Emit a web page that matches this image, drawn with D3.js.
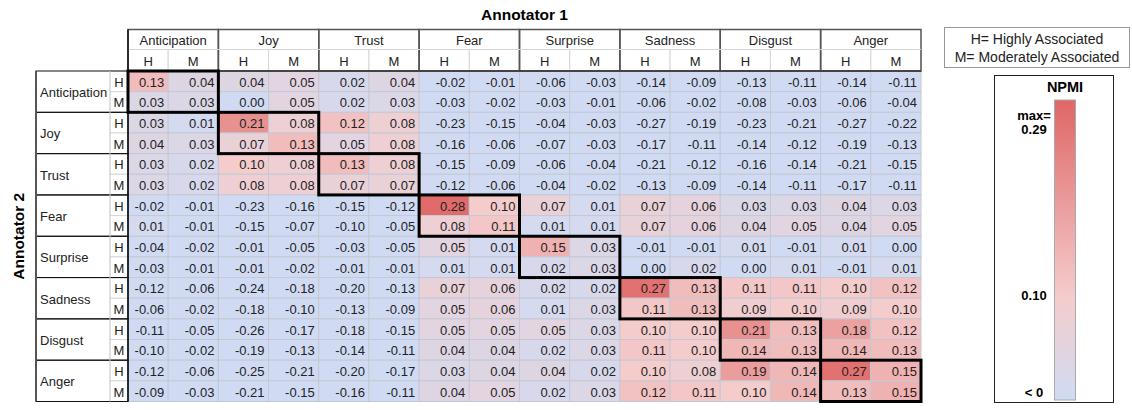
<!DOCTYPE html>
<html>
<head>
<meta charset="utf-8">
<script src="https://cdn.jsdelivr.net/npm/d3@7"></script>
<style>
  body { margin: 0; background: #fff; }
  svg { font-family: "Liberation Sans", Arial, sans-serif; }
</style>
</head>
<body>
<svg id="chart" width="1132" height="410"></svg>
<script>
const groups = ['Anticipation', 'Joy', 'Trust', 'Fear', 'Surprise', 'Sadness', 'Disgust', 'Anger']
const levels = ['H', 'M']

// rows = Annotator 2 (group x level), cols = Annotator 1 (group x level)
const npmi = [
  [0.13, 0.04, 0.04, 0.05, 0.02, 0.04, -0.02, -0.01, -0.06, -0.03, -0.14, -0.09, -0.13, -0.11, -0.14, -0.11],
  [0.03, 0.03, 0.00, 0.05, 0.02, 0.03, -0.03, -0.02, -0.03, -0.01, -0.06, -0.02, -0.08, -0.03, -0.06, -0.04],
  [0.03, 0.01, 0.21, 0.08, 0.12, 0.08, -0.23, -0.15, -0.04, -0.03, -0.27, -0.19, -0.23, -0.21, -0.27, -0.22],
  [0.04, 0.03, 0.07, 0.13, 0.05, 0.08, -0.16, -0.06, -0.07, -0.03, -0.17, -0.11, -0.14, -0.12, -0.19, -0.13],
  [0.03, 0.02, 0.10, 0.08, 0.13, 0.08, -0.15, -0.09, -0.06, -0.04, -0.21, -0.12, -0.16, -0.14, -0.21, -0.15],
  [0.03, 0.02, 0.08, 0.08, 0.07, 0.07, -0.12, -0.06, -0.04, -0.02, -0.13, -0.09, -0.14, -0.11, -0.17, -0.11],
  [-0.02, -0.01, -0.23, -0.16, -0.15, -0.12, 0.28, 0.10, 0.07, 0.01, 0.07, 0.06, 0.03, 0.03, 0.04, 0.03],
  [0.01, -0.01, -0.15, -0.07, -0.10, -0.05, 0.08, 0.11, 0.01, 0.01, 0.07, 0.06, 0.04, 0.05, 0.04, 0.05],
  [-0.04, -0.02, -0.01, -0.05, -0.03, -0.05, 0.05, 0.01, 0.15, 0.03, -0.01, -0.01, 0.01, -0.01, 0.01, 0.00],
  [-0.03, -0.01, -0.01, -0.02, -0.01, -0.01, 0.01, 0.01, 0.02, 0.03, 0.00, 0.02, 0.00, 0.01, -0.01, 0.01],
  [-0.12, -0.06, -0.24, -0.18, -0.20, -0.13, 0.07, 0.06, 0.02, 0.02, 0.27, 0.13, 0.11, 0.11, 0.10, 0.12],
  [-0.06, -0.02, -0.18, -0.10, -0.13, -0.09, 0.05, 0.06, 0.01, 0.03, 0.11, 0.13, 0.09, 0.10, 0.09, 0.10],
  [-0.11, -0.05, -0.26, -0.17, -0.18, -0.15, 0.05, 0.05, 0.05, 0.03, 0.10, 0.10, 0.21, 0.13, 0.18, 0.12],
  [-0.10, -0.02, -0.19, -0.13, -0.14, -0.11, 0.04, 0.04, 0.02, 0.03, 0.11, 0.10, 0.14, 0.13, 0.14, 0.13],
  [-0.12, -0.06, -0.25, -0.21, -0.20, -0.17, 0.03, 0.04, 0.04, 0.02, 0.10, 0.08, 0.19, 0.14, 0.27, 0.15],
  [-0.09, -0.03, -0.21, -0.15, -0.16, -0.11, 0.04, 0.05, 0.02, 0.03, 0.12, 0.11, 0.10, 0.14, 0.13, 0.15],
]

const colorStops = [0, 0.10, 0.29]
const colorRange = ['#d0dbf3', '#f4cccc', '#e06666']
const legendLabels = [{ v: 0.29, lines: ['max=', '0.29'] }, { v: 0.10, lines: ['0.10'] }, { v: 0, lines: ['< 0'] }]
const keyLines = ['H= Highly Associated', 'M= Moderately Associated']

const svg = d3.select('#chart')
const keys = groups.flatMap((g) => levels.map((l) => `${g}-${l}`))

// first column of the sheet is narrower, so the band starts left of the data edge and gets clipped
const dataLeft = 128
const x = d3.scaleBand().domain(keys).range([118, 921])
const y = d3.scaleBand().domain(keys).range([71, 401.5])
const bw = x.bandwidth()
const bh = y.bandwidth()
const color = d3.scaleLinear().domain(colorStops).range(colorRange).clamp(true)
const fs = 13

const cx = (k) => Math.max(x(k), dataLeft)
const cw = (k) => x(k) + bw - cx(k)

const cells = []
npmi.forEach((row, r) => {
  row.forEach((v, c) => cells.push({ r: keys[r], c: keys[c], v }))
})

// cells
const body = svg.append('g')
body.selectAll('rect')
  .data(cells)
  .join('rect')
  .attr('x', (d) => cx(d.c))
  .attr('y', (d) => y(d.r))
  .attr('width', (d) => cw(d.c))
  .attr('height', bh)
  .attr('fill', (d) => color(d.v))
  .attr('stroke', '#c4c8d4')
  .attr('stroke-width', 1)

body.selectAll('text')
  .data(cells)
  .join('text')
  .attr('x', (d) => x(d.c) + bw - 4)
  .attr('y', (d) => y(d.r) + bh / 2 + 1)
  .attr('text-anchor', 'end')
  .attr('dominant-baseline', 'central')
  .attr('font-size', fs)
  .attr('fill', '#222')
  .text((d) => d.v.toFixed(2))

// column header
const head = svg.append('g')
const hTop = 29.5
const hMid = 49.5
const hBot = y.range()[0]

head.selectAll('.sub')
  .data(keys)
  .join('rect')
  .attr('class', 'sub')
  .attr('x', (k) => cx(k))
  .attr('y', hMid)
  .attr('width', (k) => cw(k))
  .attr('height', hBot - hMid)
  .attr('fill', '#fff')
  .attr('stroke', '#d6d6d6')

head.selectAll('.subText')
  .data(keys)
  .join('text')
  .attr('class', 'subText')
  .attr('x', (k) => cx(k) + cw(k) / 2)
  .attr('y', (hMid + hBot) / 2 + 1)
  .attr('text-anchor', 'middle')
  .attr('dominant-baseline', 'central')
  .attr('font-size', fs)
  .attr('fill', '#222')
  .text((k) => k.split('-')[1])

head.selectAll('.grp')
  .data(groups)
  .join('rect')
  .attr('class', 'grp')
  .attr('x', (g) => cx(`${g}-H`))
  .attr('y', hTop)
  .attr('width', (g) => x(`${g}-M`) + bw - cx(`${g}-H`))
  .attr('height', hBot - hTop)
  .attr('fill', 'none')
  .attr('stroke', '#555')
  .attr('stroke-width', 1.5)

head.append('line')
  .attr('x1', dataLeft).attr('x2', x.range()[1])
  .attr('y1', hMid).attr('y2', hMid)
  .attr('stroke', '#d6d6d6')

head.selectAll('.grpText')
  .data(groups)
  .join('text')
  .attr('class', 'grpText')
  .attr('x', (g) => (cx(`${g}-H`) + x(`${g}-M`) + bw) / 2)
  .attr('y', (hTop + hMid) / 2 + 1)
  .attr('text-anchor', 'middle')
  .attr('dominant-baseline', 'central')
  .attr('font-size', fs)
  .attr('fill', '#222')
  .text((g) => g)

head.append('line')
  .attr('x1', dataLeft).attr('x2', x.range()[1])
  .attr('y1', hBot).attr('y2', hBot)
  .attr('stroke', '#444')
  .attr('stroke-width', 2)

// row header
const rowHead = svg.append('g')
const labLeft = 36
const labMid = 110

rowHead.selectAll('.sub')
  .data(keys)
  .join('rect')
  .attr('class', 'sub')
  .attr('x', labMid)
  .attr('y', (k) => y(k))
  .attr('width', dataLeft - labMid)
  .attr('height', bh)
  .attr('fill', '#fff')
  .attr('stroke', '#d6d6d6')

rowHead.selectAll('.subText')
  .data(keys)
  .join('text')
  .attr('class', 'subText')
  .attr('x', (labMid + dataLeft) / 2)
  .attr('y', (k) => y(k) + bh / 2 + 1)
  .attr('text-anchor', 'middle')
  .attr('dominant-baseline', 'central')
  .attr('font-size', fs)
  .attr('fill', '#222')
  .text((k) => k.split('-')[1])

rowHead.selectAll('.grp')
  .data(groups)
  .join('rect')
  .attr('class', 'grp')
  .attr('x', labLeft)
  .attr('y', (g) => y(`${g}-H`))
  .attr('width', dataLeft - labLeft)
  .attr('height', bh * 2)
  .attr('fill', 'none')
  .attr('stroke', '#111')
  .attr('stroke-width', 1)

rowHead.append('line')
  .attr('x1', labMid).attr('x2', labMid)
  .attr('y1', y.range()[0]).attr('y2', y.range()[1])
  .attr('stroke', '#d6d6d6')

rowHead.selectAll('.grpText')
  .data(groups)
  .join('text')
  .attr('class', 'grpText')
  .attr('x', labLeft + 4)
  .attr('y', (g) => y(`${g}-H`) + bh + 1)
  .attr('dominant-baseline', 'central')
  .attr('font-size', fs)
  .attr('fill', '#222')
  .text((g) => g)

rowHead.append('line')
  .attr('x1', labLeft).attr('x2', labLeft)
  .attr('y1', y.range()[0]).attr('y2', y.range()[1])
  .attr('stroke', '#555')
  .attr('stroke-width', 2)

rowHead.append('line')
  .attr('x1', dataLeft).attr('x2', dataLeft)
  .attr('y1', hTop).attr('y2', y.range()[1])
  .attr('stroke', '#111')
  .attr('stroke-width', 1.5)

// diagonal blocks (same emotion for both annotators)
svg.append('g')
  .selectAll('rect')
  .data(groups)
  .join('rect')
  .attr('x', (g) => cx(`${g}-H`))
  .attr('y', (g) => y(`${g}-H`))
  .attr('width', (g) => x(`${g}-M`) + bw - cx(`${g}-H`))
  .attr('height', bh * 2)
  .attr('fill', 'none')
  .attr('stroke', '#000')
  .attr('stroke-width', 3)

// axis titles
svg.append('text')
  .attr('x', (dataLeft + x.range()[1]) / 2)
  .attr('y', 14)
  .attr('text-anchor', 'middle')
  .attr('dominant-baseline', 'central')
  .attr('font-size', 15.5)
  .attr('font-weight', 'bold')
  .text('Annotator 1')

svg.append('text')
  .attr('transform', `translate(18,${(y.range()[0] + y.range()[1]) / 2}) rotate(-90)`)
  .attr('text-anchor', 'middle')
  .attr('dominant-baseline', 'central')
  .attr('font-size', 15.5)
  .attr('font-weight', 'bold')
  .text('Annotator 2')

// H / M key
const key = svg.append('g')
key.append('rect')
  .attr('x', 944.5).attr('y', 27.5)
  .attr('width', 185).attr('height', 40)
  .attr('fill', '#fff')
  .attr('stroke', '#999')
key.selectAll('text')
  .data(keyLines)
  .join('text')
  .attr('x', 1037)
  .attr('y', (d, i) => 39 + i * 18)
  .attr('text-anchor', 'middle')
  .attr('dominant-baseline', 'central')
  .attr('font-size', 14)
  .attr('fill', '#222')
  .text((d) => d)

// colour legend
const leg = svg.append('g')
leg.append('rect')
  .attr('x', 994.5).attr('y', 75.5)
  .attr('width', 119).attr('height', 327)
  .attr('fill', '#fff')
  .attr('stroke', '#222')

leg.append('text')
  .attr('x', 1065).attr('y', 87)
  .attr('text-anchor', 'middle')
  .attr('dominant-baseline', 'central')
  .attr('font-size', 14.5)
  .attr('font-weight', 'bold')
  .text('NPMI')

const ly = d3.scaleLinear().domain([0, 0.29]).range([400, 100])
const grad = svg.append('defs').append('linearGradient')
  .attr('id', 'npmiGrad')
  .attr('x1', 0).attr('x2', 0).attr('y1', 1).attr('y2', 0)
grad.selectAll('stop')
  .data(colorStops)
  .join('stop')
  .attr('offset', (d) => d / colorStops[colorStops.length - 1])
  .attr('stop-color', (d) => color(d))

leg.append('rect')
  .attr('x', 1054.5).attr('y', ly(0.29))
  .attr('width', 21).attr('height', ly(0) - ly(0.29))
  .attr('fill', 'url(#npmiGrad)')
  .attr('stroke', '#aaa')

const labelY = { 0.29: 115, 0.1: 295, 0: 392 }
leg.selectAll('.lab')
  .data(legendLabels)
  .join('text')
  .attr('class', 'lab')
  .attr('x', 1034)
  .attr('y', (d) => labelY[d.v] ?? ly(d.v))
  .attr('text-anchor', 'middle')
  .attr('font-size', 13)
  .attr('font-weight', 'bold')
  .attr('dominant-baseline', 'central')
  .selectAll('tspan')
  .data((d) => d.lines)
  .join('tspan')
  .attr('x', 1034)
  .attr('dy', (d, i) => (i === 0 ? 0 : 14))
  .text((d) => d)
</script>
</body>
</html>
